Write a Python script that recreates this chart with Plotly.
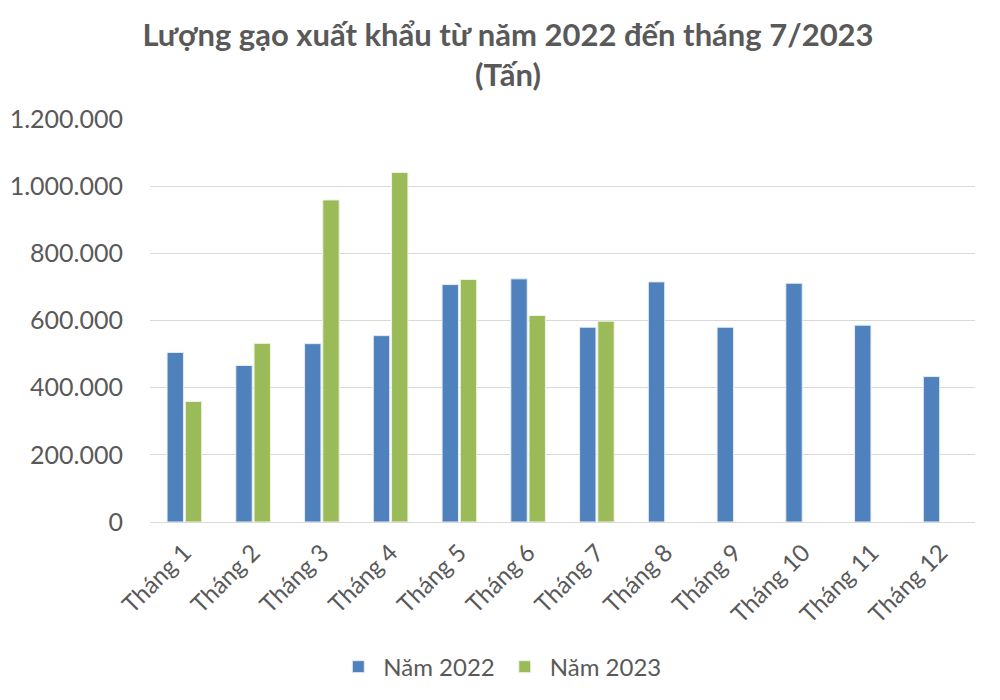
import plotly.graph_objects as go

months = ["Tháng 1", "Tháng 2", "Tháng 3", "Tháng 4", "Tháng 5", "Tháng 6",
          "Tháng 7", "Tháng 8", "Tháng 9", "Tháng 10", "Tháng 11", "Tháng 12"]
nam_2022 = [505000, 466000, 531000, 555000, 707000, 724000,
            580000, 715000, 580000, 711000, 586000, 433000]
nam_2023 = [359000, 532000, 959000, 1041000, 722000, 615000,
            598000, None, None, None, None, None]

font_family = "Lato, 'Open Sans', sans-serif"
gray = "#595959"

fig = go.Figure()
fig.add_trace(go.Bar(x=months, y=nam_2022, name="Năm 2022",
                     marker=dict(color="#4f81bd", line=dict(color="#e6ecf5", width=1))))
fig.add_trace(go.Bar(x=months, y=nam_2023, name="Năm 2023",
                     marker=dict(color="#9bbb59", line=dict(color="#eef4e4", width=1))))

fig.update_layout(
    width=1000, height=700,
    paper_bgcolor="white", plot_bgcolor="white",
    separators=",.",
    barmode="group", bargap=0.47, bargroupgap=0.1,
    margin=dict(l=142, r=33, t=111, b=186, autoexpand=False),
    title=dict(text="<b>Lượng gạo xuất khẩu từ năm 2022 đến tháng 7/2023<br>(Tấn)</b>",
               x=0.5, xanchor="center", y=1 - 38 / 700, yanchor="middle",
               font=dict(family=font_family, size=31, color=gray)),
    font=dict(family=font_family, color=gray),
    yaxis=dict(range=[0, 1200000], dtick=200000, tickformat=",d", automargin=False,
               showgrid=True, gridcolor="#d9d9d9", gridwidth=1,
               zeroline=True, zerolinecolor="#d9d9d9", zerolinewidth=1,
               tickfont=dict(size=25, color=gray), ticks="", ticklabelstandoff=26),
    xaxis=dict(tickangle=-45, tickfont=dict(size=24, color=gray), automargin=False,
               showline=True, linecolor="#d9d9d9", ticks="", ticklabelstandoff=6),
    legend=dict(orientation="h", x=0.424, xanchor="center", xref="paper",
                y=-0.36, yanchor="middle", itemwidth=40,
                font=dict(size=24, color=gray), traceorder="normal"),
)

fig.write_html("out.html")
